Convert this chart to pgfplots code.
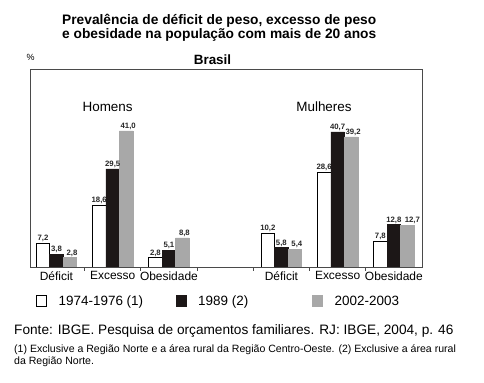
\documentclass[border=0pt]{standalone}
\usepackage{pgfplots}
\pgfplotsset{compat=1.18}
\usepackage{fontspec}
\setmainfont{Liberation Sans}
\definecolor{barblack}{HTML}{1C1717}
\definecolor{bargray}{HTML}{A8A8A8}
\definecolor{framec}{HTML}{4A4A4A}
\begin{document}
\begin{tikzpicture}
\useasboundingbox (0,0) rectangle (484bp,383bp);
\node[font=\bfseries\fontsize{13.8}{12.5}\selectfont, align=left, anchor=north west, inner sep=0pt] at (62bp,369bp)
  {Prevalência de déficit de peso, excesso de peso\\e obesidade na população com mais de 20 anos};
\node[font=\bfseries\fontsize{13.5}{15}\selectfont, inner sep=0pt] at (212.5bp,323bp) {Brasil};
\node[font=\fontsize{9}{10}\selectfont, inner sep=0pt] at (30.5bp,326bp) {\%};
\begin{axis}[
  at={(30bp,116bp)}, anchor=south west,
  width=392bp, height=198bp, scale only axis,
  xmin=-0.47, xmax=6.5, ymin=0, ymax=59.6,
  axis line style={framec, line width=0.9bp},
  ytick=\empty,
  xtick pos=lower,
  xtick={0,1,2,4,5,6},
  xticklabels={Déficit,Excesso,Obesidade,Déficit,Excesso,Obesidade},
  major tick length=0pt,
  xticklabel style={font=\fontsize{12}{14}\selectfont, yshift=-1bp},
  extra x ticks={0.5,1.5,2.5,3.5,4.5,5.5},
  extra x tick labels={},
  extra x tick style={major tick length=4bp, tick align=outside, xtick pos=lower, tick style={framec, line width=0.9bp}},
  ybar, bar width=13.5bp,
  nodes near coords={\pgfmathprintnumber[fixed,fixed zerofill,precision=1,use comma,assume math mode=true]{\pgfplotspointmeta}},
  every node near coord/.append style={font=\bfseries\fontsize{7.8}{9}\selectfont, inner sep=1bp, text=black!85},
  legend columns=3,
  legend style={draw=none, fill=none, inner sep=0pt, outer sep=0pt,
    at={(axis description cs:0.0153,-0.172)}, anchor=west,
    font=\fontsize{13.5}{15}\selectfont,
    nodes={inner sep=0pt},
    /tikz/every odd column/.append style={column sep=12bp}},
  legend cell align=left,
]
\addplot[bar shift=-13.5bp, fill=white, draw=black, line width=0.7bp,
  legend image code/.code={\draw[fill=white, draw=black, line width=0.7bp] (0bp,-5.5bp) rectangle (10bp,5.5bp);}]
  coordinates {(0,7.2) (1,18.6) (2,2.8) (4,10.2) (5,28.6) (6,7.8)};
\addlegendentry{\makebox[117bp][l]{1974-1976 (1)}}
\addplot[bar shift=0bp, fill=barblack, draw=barblack, line width=0.5bp,
  legend image code/.code={\fill[barblack] (0bp,-5.5bp) rectangle (10bp,5.5bp);}]
  coordinates {(0,3.8) (1,29.5) (2,5.1) (4,5.8) (5,40.7) (6,12.8)};
\addlegendentry{\makebox[114bp][l]{1989 (2)}}
\addplot[bar shift=13.5bp, fill=bargray, draw=bargray, line width=0.5bp,
  every node near coord/.append style={xshift=2bp},
  legend image code/.code={\fill[bargray] (0bp,-5.5bp) rectangle (10bp,5.5bp);}]
  coordinates {(0,2.8) (1,41.0) (2,8.8) (4,5.4) (5,39.2)};
\addlegendentry{2002-2003}
\addplot[forget plot, bar shift=13.5bp, fill=bargray, draw=bargray, line width=0.5bp,
  every node near coord/.append style={xshift=5bp}]
  coordinates {(6,12.7)};
\node[font=\fontsize{13.5}{15}\selectfont] at (axis description cs:0.198,0.81) {Homens};
\node[font=\fontsize{13.5}{15}\selectfont] at (axis description cs:0.750,0.81) {Mulheres};
\end{axis}
\node[font=\fontsize{13.7}{15}\selectfont, anchor=west, inner sep=0pt] at (14bp,52bp)
  {Fonte: IBGE. Pesquisa de orçamentos familiares. RJ: IBGE, 2004, p. 46};
\node[font=\fontsize{10.6}{12}\selectfont, anchor=north west, align=left, inner sep=0pt] at (14bp,38.5bp)
  {(1) Exclusive a Região Norte e a área rural da Região Centro-Oeste. (2) Exclusive a área rural\\da Região Norte.};
\end{tikzpicture}
\end{document}
